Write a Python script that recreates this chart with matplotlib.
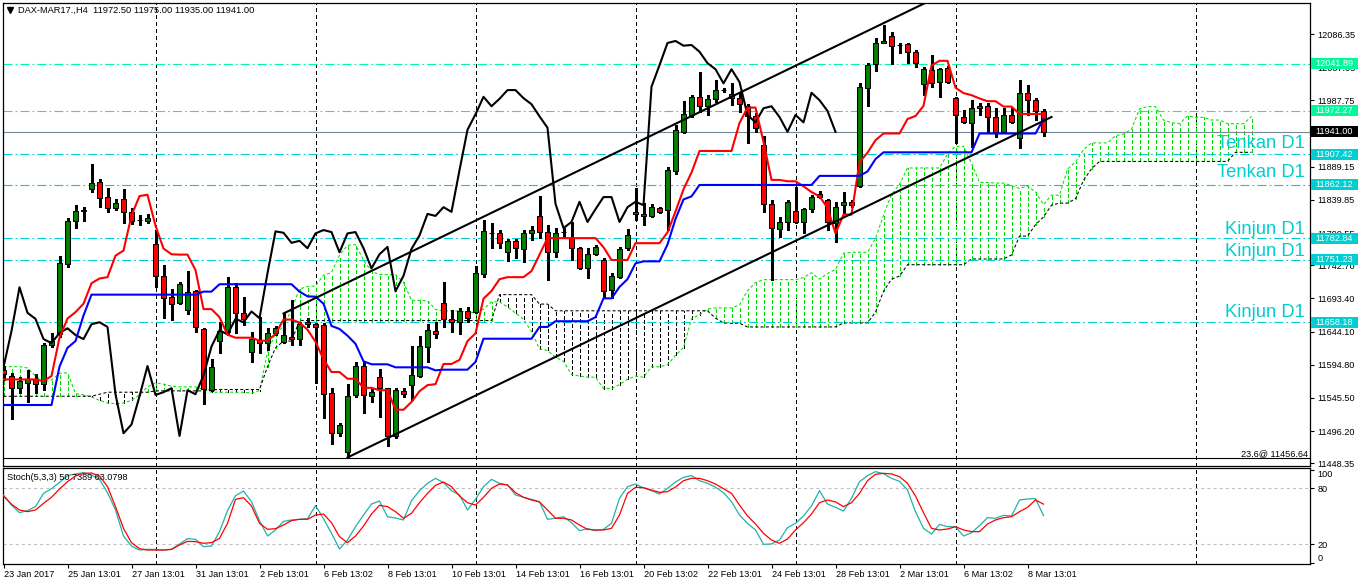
import matplotlib
matplotlib.use('Agg')
import matplotlib.pyplot as plt
import numpy as np
from matplotlib.transforms import blended_transform_factory
from matplotlib.patches import Rectangle

plt.rcParams['font.family'] = ['Liberation Sans', 'DejaVu Sans']
plt.rcParams['lines.scale_dashes'] = False

# ---------------- data (DAX-MAR17 H4) ----------------
opens = [11587, 11578, 11561, 11567, 11573, 11566, 11624, 11640, 11744, 11808,
         11823, 11856, 11866, 11844, 11828, 11841, 11822, 11810, 11808, 11774,
         11727, 11695, 11686, 11676, 11704, 11648, 11557, 11630, 11643, 11710,
         11672, 11614, 11631, 11627, 11642, 11628, 11636, 11633, 11655, 11655,
         11654, 11553, 11493, 11465, 11550, 11593, 11548, 11576, 11560, 11489,
         11556, 11564, 11578, 11621, 11645, 11686, 11663, 11658, 11674, 11673,
         11730, 11790, 11790, 11762, 11779, 11767, 11790, 11816, 11792, 11762,
         11792, 11783, 11768, 11738, 11759, 11750, 11706, 11725, 11768, 11822,
         11819, 11816, 11828, 11825, 11883, 11941, 11966, 11993, 11979, 11990,
         12003, 11997, 11991, 11979, 11964, 11921, 11834, 11796, 11807, 11823,
         11807, 11826, 11848, 11840, 11805, 11832, 11837, 11860, 12006, 12042,
         12073, 12083, 12070, 12072, 12060, 12012, 12033, 12015, 12036, 11991,
         11963, 11954, 11976, 11979, 11963, 11941, 11966, 11932, 11999, 11988,
         11972.5]
highs = [11593, 11582, 11576, 11587, 11581, 11627, 11642, 11756, 11813, 11832,
         11829, 11893, 11871, 11857, 11841, 11856, 11828, 11817, 11819, 11795,
         11743, 11707, 11718, 11734, 11706, 11649, 11603, 11658, 11725, 11716,
         11695, 11643, 11666, 11649, 11652, 11672, 11691, 11658, 11664, 11657,
         11657, 11560, 11508, 11566, 11599, 11599, 11560, 11588, 11561, 11561,
         11560, 11622, 11637, 11655, 11658, 11718, 11676, 11679, 11680, 11741,
         11810, 11805, 11795, 11782, 11782, 11795, 11801, 11845, 11802, 11798,
         11798, 11807, 11770, 11768, 11773, 11753, 11731, 11770, 11796, 11857,
         11835, 11834, 11829, 11889, 11951, 11987, 11996, 12030, 11996, 12018,
         12006, 12014, 11999, 11982, 11969, 11935, 11840, 11814, 11840, 11859,
         11828, 11847, 11853, 11841, 11837, 11851, 11840, 12014, 12043, 12080,
         12100, 12089, 12073, 12073, 12063, 12037, 12055, 12036, 12039, 11993,
         11973, 11988, 11984, 11984, 11976, 11976, 11976, 12018, 12011, 11991,
         11975]
lows = [11572, 11514, 11553, 11539, 11553, 11557, 11621, 11636, 11740, 11798,
        11808, 11851, 11829, 11822, 11825, 11805, 11804, 11802, 11805, 11710,
        11664, 11661, 11685, 11670, 11643, 11536, 11556, 11612, 11639, 11642,
        11654, 11599, 11612, 11616, 11639, 11627, 11624, 11624, 11651, 11567,
        11515, 11477, 11489, 11457, 11547, 11523, 11539, 11517, 11474, 11486,
        11547, 11542, 11576, 11599, 11634, 11651, 11643, 11640, 11658, 11672,
        11725, 11768, 11768, 11749, 11753, 11747, 11780, 11783, 11721, 11755,
        11785, 11750, 11737, 11724, 11758, 11694, 11694, 11724, 11765, 11810,
        11802, 11814, 11820, 11795, 11878, 11939, 11963, 11970, 11966, 11985,
        12000, 11981, 11970, 11924, 11941, 11822, 11721, 11785, 11795, 11805,
        11790, 11822, 11843, 11795, 11777, 11820, 11829, 11859, 11979, 12031,
        12073, 12042, 12058, 12043, 12037, 11996, 12007, 11993, 12013, 11924,
        11954, 11918, 11966, 11941, 11933, 11939, 11954, 11917, 11966, 11959,
        11935]
closes = [11581, 11561, 11570, 11573, 11566, 11624, 11630, 11746, 11808, 11823,
          11825, 11865, 11843, 11828, 11835, 11822, 11808, 11810, 11813, 11727,
          11694, 11685, 11715, 11703, 11651, 11559, 11591, 11645, 11710, 11672,
          11663, 11633, 11627, 11642, 11649, 11639, 11633, 11655, 11658, 11651,
          11551, 11493, 11506, 11548, 11593, 11550, 11554, 11560, 11489, 11557,
          11551, 11579, 11622, 11646, 11640, 11663, 11658, 11674, 11664, 11731,
          11793, 11791, 11776, 11779, 11768, 11790, 11795, 11792, 11762, 11790,
          11792, 11768, 11738, 11759, 11770, 11704, 11727, 11767, 11787, 11819,
          11816, 11829, 11822, 11884, 11944, 11967, 11993, 11979, 11990, 12003,
          12003, 11991, 11982, 11964, 11947, 11834, 11798, 11807, 11837, 11807,
          11826, 11844, 11844, 11807, 11829, 11837, 11832, 12008, 12040, 12073,
          12076, 12069, 12070, 12060, 12043, 12034, 12013, 12034, 12015, 11966,
          11955, 11976, 11979, 11963, 11941, 11966, 11955, 11999, 11988, 11972,
          11941]

tenkan = [11573, 11573, 11573, 11573, 11573, 11570.5, 11578, 11635, 11663.5, 11673,
          11685.5, 11716, 11723, 11725, 11757, 11764.5, 11816.5, 11845.5, 11847.5, 11801.5,
          11767.5, 11759, 11758.5, 11758.5, 11735.5, 11677.5, 11677.5, 11665.5, 11639.5, 11635,
          11635, 11635, 11630.5, 11630.5, 11640.5, 11662, 11662, 11657.5, 11647, 11629,
          11603, 11584, 11584, 11574, 11574, 11560.5, 11560.5, 11557, 11557, 11528,
          11528, 11539.5, 11555.5, 11564.5, 11566, 11596, 11596, 11602, 11630, 11641.5,
          11693, 11704.5, 11722, 11725, 11725, 11725, 11734, 11758.5, 11783, 11783,
          11783, 11783, 11783, 11783, 11783, 11769.5, 11750.5, 11750.5, 11750.5, 11775.5,
          11775.5, 11775.5, 11775.5, 11791.5, 11822.5, 11855.5, 11880.5, 11912.5, 11912.5, 11912.5,
          11912.5, 11912.5, 11954, 11977, 11977, 11926, 11869.5, 11869.5, 11867.5, 11867.5,
          11860, 11851.5, 11845, 11828, 11790, 11818, 11818, 11895.5, 11910, 11928.5,
          11938.5, 11938.5, 11938.5, 11960, 11964.5, 11979.5, 12039.5, 12046.5, 12046.5, 12006.5,
          11998.5, 11995.5, 11990.5, 11986.5, 11986.5, 11978.5, 11978.5, 11967.5, 11967.5, 11967.5,
          11967.5]
kijun = [11535, 11535, 11535, 11535, 11535, 11535, 11535, 11592, 11620, 11630,
         11668, 11699, 11699, 11699, 11699, 11699, 11699, 11699, 11699, 11699,
         11699, 11699, 11699, 11699, 11699, 11703.5, 11703.5, 11714.5, 11714.5, 11714.5,
         11714.5, 11714.5, 11714.5, 11714.5, 11714.5, 11714.5, 11714.5, 11703.5, 11696.5, 11696,
         11685.5, 11652.5, 11648, 11638, 11626, 11600, 11595.5, 11595.5, 11595.5, 11591,
         11591, 11591, 11591, 11591, 11586.5, 11587.5, 11587.5, 11587.5, 11587.5, 11599,
         11633.5, 11633.5, 11633.5, 11633.5, 11633.5, 11633.5, 11633.5, 11651, 11651, 11659.5,
         11659.5, 11659.5, 11659.5, 11659.5, 11665.5, 11693.5, 11693.5, 11710.5, 11722, 11745.5,
         11748.5, 11748.5, 11748.5, 11773.5, 11811.5, 11840.5, 11845, 11862, 11862, 11862,
         11862, 11862, 11862, 11862, 11862, 11862, 11862, 11862, 11862, 11862,
         11862, 11862, 11875.5, 11875.5, 11875.5, 11875.5, 11875.5, 11875.5, 11882, 11900.5,
         11910.5, 11910.5, 11910.5, 11910.5, 11910.5, 11910.5, 11910.5, 11910.5, 11910.5, 11910.5,
         11910.5, 11910.5, 11938.5, 11938.5, 11938.5, 11938.5, 11938.5, 11938.5, 11938.5, 11938.5,
         11960]

senkou_a = [11592, 11592, 11592, 11590, 11578, 11569, 11572, 11582, 11583, 11552,
            11550, 11547, 11542, 11538, 11537, 11538, 11542, 11550, 11562, 11568,
            11566, 11563, 11562, 11562, 11562, 11558,
            11554, 11554, 11554, 11554, 11554, 11552.8, 11556.5, 11613.5, 11641.8, 11651.5,
            11676.8, 11707.5, 11711, 11712, 11728, 11731.8, 11757.8, 11772.3, 11773.3, 11750.3,
            11733.3, 11729, 11728.8, 11728.8, 11717.3, 11690.5, 11690.5, 11690, 11677, 11674.8,
            11674.8, 11674.8, 11672.5, 11672.5, 11677.5, 11688.3, 11688.3, 11680.5, 11671.8, 11662.5,
            11644.3, 11618.3, 11616, 11606, 11600, 11580.3, 11578, 11576.3, 11576.3, 11559.5,
            11559.5, 11565.3, 11573.3, 11577.8, 11576.3, 11591.8, 11591.8, 11594.8, 11608.8, 11620.3,
            11663.3, 11669, 11677.8, 11679.3, 11679.3, 11679.3, 11683.8, 11704.8, 11717, 11721.3,
            11721.3, 11721.3, 11721.3, 11721.3, 11724.3, 11731.5, 11722, 11730.5, 11736.3, 11760.5,
            11762, 11762, 11762, 11782.5, 11817, 11848, 11862.8, 11887.3, 11887.3, 11887.3,
            11887.3, 11887.3, 11908, 11919.5, 11919.5, 11894, 11865.8, 11865.8, 11864.8, 11864.8,
            11861, 11856.8, 11860.3, 11851.8, 11832.8, 11846.8, 11846.8, 11885.5, 11896, 11914.5,
            11924.5, 11924.5, 11924.5, 11935.3, 11937.5, 11945, 11975, 11978.5, 11978.5, 11958.5,
            11954.5, 11953, 11964.5, 11962.5, 11962.5, 11958.5, 11958.5, 11953, 11953, 11953,
            11963.8]
senkou_b = ([11548] * 12 + [11551] + [11554] * 6 + [11556] * 7 + [11558] * 7 +
            [11592, 11620, 11630, 11630] + [11660.5] * 25 + [11699] * 5 +
            [11685] * 2 + [11675] * 20 + [11664, 11657, 11656.5, 11656.5] +
            [11651] * 12 + [11657] * 4 + [11673, 11704, 11722, 11726.5] +
            [11743.5] * 8 + [11752] * 5 + [11758, 11786, 11786, 11803, 11814.5,
            11832, 11835, 11835, 11841.5, 11869, 11886] + [11897] * 17 +
            [11910.5] * 3)

stoch_k = [72.9, 62.1, 53.9, 56.1, 60.4, 74.6, 79.6, 86.4, 93.6, 95.4,
           96.8, 94.3, 89.6, 75.4, 56.8, 28.9, 18.2, 13.9, 14.6, 14.6,
           13.9, 14.6, 20.4, 26.1, 25.4, 17.5, 18.2, 33.6, 56.1, 72.1,
           77.1, 65.7, 45.4, 28.9, 35.4, 44.6, 46.1, 46.8, 47.5, 61.4,
           47.5, 31.8, 15.0, 24.6, 38.9, 51.4, 63.2, 66.4, 49.6, 48.2,
           46.1, 66.8, 77.5, 85.4, 90.7, 86.1, 77.5, 72.9, 56.8, 68.2,
           81.8, 89.6, 85.4, 83.6, 72.9, 70.4, 68.2, 65.7, 46.8, 47.9,
           49.6, 43.2, 34.6, 36.8, 34.6, 36.1, 42.5, 69.3, 81.8, 84.6,
           80.4, 77.5, 73.9, 80.0, 86.8, 91.8, 93.6, 88.2, 85.4, 81.1,
           75.4, 65.7, 51.4, 42.5, 35.4, 20.0, 20.4, 24.6, 37.9, 42.5,
           50.4, 61.1, 77.5, 63.2, 59.6, 55.7, 69.3, 87.1, 93.6, 97.9,
           95.7, 90.7, 87.5, 78.2, 55.0, 37.1, 31.1, 41.4, 38.9, 38.9,
           28.9, 32.5, 40.0, 48.6, 47.9, 51.1, 50.4, 67.5, 68.6, 68.9,
           50.7389]
stoch_d = [71.8, 62.9, 56.8, 55.0, 56.8, 63.9, 70.4, 79.3, 87.1, 93.2,
           96.1, 96.4, 93.2, 81.8, 60.4, 37.1, 21.8, 15.4, 13.9, 13.9,
           13.9, 14.6, 19.3, 23.2, 22.9, 21.1, 21.8, 26.4, 42.5, 68.2,
           70.0, 61.1, 42.5, 36.1, 36.8, 40.7, 45.4, 46.8, 46.8, 51.4,
           52.5, 43.2, 28.2, 21.8, 28.9, 39.6, 52.5, 61.8, 60.4, 55.0,
           47.9, 53.2, 64.6, 74.6, 83.2, 86.8, 81.8, 71.8, 64.6, 62.1,
           70.4, 80.0, 84.6, 83.6, 75.4, 70.4, 67.5, 65.4, 56.8, 47.9,
           47.9, 46.1, 40.7, 36.1, 35.4, 35.4, 37.1, 51.4, 74.6, 81.1,
           80.7, 78.2, 75.7, 76.4, 81.4, 88.2, 90.7, 90.7, 88.2, 84.6,
           79.6, 74.6, 62.1, 50.4, 41.8, 31.8, 24.6, 21.1, 25.7, 35.4,
           43.2, 52.5, 64.6, 67.5, 65.4, 60.4, 64.6, 74.6, 88.2, 95.0,
           96.1, 95.4, 92.5, 85.4, 71.8, 53.9, 37.1, 35.4, 36.4, 38.9,
           35.4, 33.6, 33.6, 41.8, 46.1, 48.6, 49.6, 55.0, 59.6, 67.5,
           63.0798]

# trend channel (bar index, price)
chan_upper_x = [35, 120]
chan_upper_y = [11671, 12160]
chan_lower_x = [43, 131]
chan_lower_y = [11457, 11963]

green_levels = [12041.89, 11972.27]
turq_levels = [11907.42, 11862.12, 11782.84, 11751.23, 11658.18]
level_texts = ['Tenkan D1', 'Tenkan D1', 'Kinjun D1', 'Kinjun D1', 'Kinjun D1']
bid_price = 11941.00
fib_price = 11456.64

price_ticks = [12086.35, 12037.05, 11987.75, 11938.45, 11889.15, 11839.85, 11790.55,
               11742.70, 11693.40, 11644.10, 11594.80, 11545.50, 11496.20, 11448.35]
date_tick_bars = [0, 8, 16, 24, 32, 40, 48, 56, 64, 72, 80, 88, 96, 104, 112, 120, 128]
date_tick_labels = ['23 Jan 2017', '25 Jan 13:01', '27 Jan 13:01', '31 Jan 13:01', '2 Feb 13:01',
                    '6 Feb 13:02', '8 Feb 13:01', '10 Feb 13:01', '14 Feb 13:01', '16 Feb 13:01',
                    '20 Feb 13:02', '22 Feb 13:01', '24 Feb 13:01', '28 Feb 13:01', '2 Mar 13:01',
                    '6 Mar 13:02', '8 Mar 13:01']
separator_bars = [19, 39, 59, 79, 99, 119, 149]

# ---------------- layout ----------------
W, H = 1358, 584
AX_L, AX_R = 2.5, 1309.5
M_TOP, M_BOT = 3, 466
S_TOP, S_BOT = 468, 563.5
BAR0_PX, BAR_STEP = 3.5, 8.0

def rect(x0, y0, x1, y1):
    return [x0 / W, 1 - y1 / H, (x1 - x0) / W, (y1 - y0) / H]

def axx(px):
    return (px - AX_L) / (AX_R - AX_L)

fig = plt.figure(figsize=(W / 100, H / 100), dpi=100, facecolor='white')
ax = fig.add_axes(rect(AX_L, M_TOP, AX_R, M_BOT))
ax2 = fig.add_axes(rect(AX_L, S_TOP, AX_R, S_BOT))

x_left = (AX_L - BAR0_PX) / BAR_STEP
x_right = (AX_R - BAR0_PX) / BAR_STEP
p_per_px = 1.4861
y_top = 12086.35 + (34 - M_TOP) * p_per_px
y_bot = 12086.35 - (M_BOT - 34) * p_per_px
for a in (ax, ax2):
    a.set_xlim(x_left, x_right)
    for s in a.spines.values():
        s.set_linewidth(0.9)
        s.set_color('black')
ax.set_ylim(y_bot, y_top)
ax2.set_ylim((563 - S_BOT) / 0.9333, (563 - S_TOP) / 0.9333)

blend = blended_transform_factory(ax.transAxes, ax.transData)

SEP_DASH = (0, (2.2, 2.2))
DASHDOT = (0, (6.5, 2.2, 1.3, 2.2))
TURQ = '#00CED1'
SPRING = '#00FA9A'
LIME = '#00E000'

# separators
for b in separator_bars:
    for a in (ax, ax2):
        a.axvline(b, color='black', lw=0.75, ls=SEP_DASH, zorder=1, antialiased=False)

# cloud
xc = np.arange(len(senkou_a))
sa = np.array(senkou_a, dtype=float)
sb = np.array(senkou_b, dtype=float)
hatch_cols = [LIME if a_ >= b_ else 'black' for a_, b_ in zip(sa, sb)]
ax.vlines(xc, np.minimum(sa, sb), np.maximum(sa, sb), colors=hatch_cols,
          linestyles=(0, (2.2, 1.6)), lw=0.75, zorder=1.5, antialiased=False)
ax.plot(xc, sa, color=LIME, lw=0.75, ls=(0, (2.2, 1.6)), zorder=1.6)
ax.plot(xc, sb, color='black', lw=0.75, ls=(0, (2.2, 1.6)), zorder=1.6)

# horizontal levels
for lv in green_levels:
    ax.axhline(lv, color=SPRING, lw=0.8, ls=DASHDOT, zorder=1.7)
for lv in turq_levels:
    ax.axhline(lv, color=TURQ, lw=0.8, ls=DASHDOT, zorder=1.7)
ax.axhline(bid_price, color='#778899', lw=0.8, zorder=1.7)
ax.axhline(fib_price, color='black', lw=0.8, zorder=1.7)
ax.text(axx(1308), fib_price, '23.6@ %.2f' % fib_price, transform=blend,
        ha='right', va='bottom', fontsize=6.6, color='black')

# candles
bars = np.arange(len(closes))
o = np.array(opens, dtype=float); c = np.array(closes, dtype=float)
ax.vlines(bars, lows, highs, color='black', lw=0.8, zorder=3, antialiased=False)
body_col = ['#008000' if cc >= oo else '#FF0000' for oo, cc in zip(o, c)]
ax.bar(bars, np.abs(c - o), bottom=np.minimum(o, c), width=0.6, color=body_col,
       edgecolor='black', linewidth=0.75, zorder=3.1)

# ichimoku lines
ax.plot(bars[:len(closes) - 26], c[26:], color='black', lw=1.5, zorder=4)
ax.plot(bars, tenkan, color='#FF0000', lw=1.5, zorder=4.1)
ax.plot(bars, kijun, color='#0000FF', lw=1.5, zorder=4.1)

# channel
ax.plot(chan_upper_x, chan_upper_y, color='black', lw=1.5, zorder=4.2)
ax.plot(chan_lower_x, chan_lower_y, color='black', lw=1.5, zorder=4.2)

# level texts
text_offsets = [4.5, 5.6, 2.9, 2.5, 3.4]
for lv, txt, off in zip(turq_levels, level_texts, text_offsets):
    ax.annotate(txt, xy=(axx(1305), lv), xycoords=blend, xytext=(0, off),
                textcoords='offset points', ha='right', va='baseline',
                fontsize=13.2, color=TURQ, zorder=5)

# header
ax.plot([axx(10)], [(M_BOT - 10) / (M_BOT - M_TOP)], marker='v', ms=4, color='black',
        transform=ax.transAxes, clip_on=False)
ax.text(axx(18), (M_BOT - 10.5) / (M_BOT - M_TOP),
        'DAX-MAR17.,H4  %.2f %.2f %.2f %.2f' % (opens[-1], highs[-1], lows[-1], closes[-1]),
        transform=ax.transAxes, ha='left', va='center', fontsize=6.7, color='black')

# price axis
ax.yaxis.tick_right()
ax.set_yticks(price_ticks)
ax.set_yticklabels(['%.2f' % v for v in price_ticks])
ax.tick_params(axis='y', length=3, width=0.8, pad=2.5, labelsize=6.6, colors='black')
ax.set_xticks([])

# price label boxes
box_h = 11 * p_per_px
def price_box(price, fc):
    ax.add_patch(Rectangle((axx(1310.5), price - box_h / 2), axx(1358.5) - axx(1310.5), box_h,
                           transform=blend, facecolor=fc, edgecolor='none',
                           clip_on=False, zorder=6))
    ax.text(axx(1315), price, '%.2f' % price, transform=blend, ha='left', va='center',
            fontsize=6.6, color='white', clip_on=False, zorder=7)
for lv in green_levels:
    price_box(lv, SPRING)
for lv in turq_levels:
    price_box(lv, TURQ)
price_box(bid_price, 'black')

# stochastic
ax2.axhline(80, color='#C0C0C0', lw=0.8, ls=SEP_DASH, zorder=1)
ax2.axhline(20, color='#C0C0C0', lw=0.8, ls=SEP_DASH, zorder=1)
ax2.plot(bars, stoch_k, color='#20B2AA', lw=0.9, zorder=3)
ax2.plot(bars, stoch_d, color='#FF0000', lw=0.9, zorder=3.1)
ax2.text(axx(7), (S_BOT - 477) / (S_BOT - S_TOP),
         'Stoch(5,3,3) %.4f %.4f' % (stoch_k[-1], stoch_d[-1]),
         transform=ax2.transAxes, ha='left', va='center', fontsize=6.6, color='black')
ax2.yaxis.tick_right()
ax2.set_yticks([100, 80, 20, 0])
ax2.set_yticklabels(['100', '80', '20', '0'])
ax2.tick_params(axis='y', length=3, width=0.8, pad=2.5, labelsize=6.6, colors='black')
ylabs = ax2.get_yticklabels()
ylabs[0].set_va('top')
ylabs[3].set_va('bottom')

ax2.set_xticks(date_tick_bars)
ax2.set_xticklabels(date_tick_labels)
ax2.tick_params(axis='x', length=3, width=0.8, pad=1.5, labelsize=6.6, colors='black')
for lbl in ax2.get_xticklabels():
    lbl.set_ha('left')

fig.savefig('out.png', dpi=100, facecolor='white')
